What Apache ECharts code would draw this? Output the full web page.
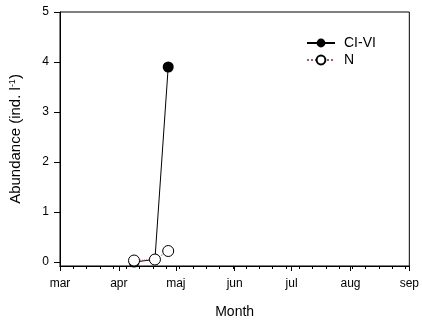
<!DOCTYPE html>
<html>
<head>
<meta charset="utf-8">
<script src="https://cdn.jsdelivr.net/npm/echarts@6/dist/echarts.min.js"></script>
<style>
    html, body { margin: 0; padding: 0; background: #fff; }
    #chart { width: 422px; height: 324px; }
</style>
</head>
<body>
<div id="chart"></div>
<script>
// days counted from 1 March
var monthDays = [0, 31, 61, 92, 122, 153, 184];
var monthNames = ['mar', 'apr', 'maj', 'jun', 'jul', 'aug', 'sep'];
var weekDays = [0, 7, 14, 21, 28, 35, 42, 49, 56, 63, 70, 77, 84, 91, 98, 105, 112, 119, 126, 133, 140, 147, 154, 161, 168, 175, 182];
var yTicks = [0, 1, 2, 3, 4, 5];

var ciDays = [39, 50, 57];
var ciValues = [0.0, 0.05, 3.9];
var nDays = [39, 50, 57];
var nValues = [0.03, 0.05, 0.22];

var font = 'Liberation Sans, Arial, sans-serif';

function pairs(xs, ys) {
    var out = [];
    for (var i = 0; i < xs.length; i++) out.push([xs[i], ys[i]]);
    return out;
}

var chart = echarts.init(document.getElementById('chart'));

var option = {
    animation: false,
    textStyle: { fontFamily: font },
    grid: {
        left: 56, right: 9, top: 12, bottom: 56,
        show: true,
        borderColor: '#000',
        borderWidth: 1
    },
    legend: {
        orient: 'vertical',
        left: 301,
        top: 31,
        itemWidth: 28,
        itemHeight: 11,
        itemGap: 3,
        textStyle: { fontFamily: font, fontSize: 14, color: '#000', padding: [0, 0, 0, 4] },
        data: ['CI-VI', 'N']
    },
    xAxis: [
        {
            type: 'value',
            min: 0, max: 184,
            axisLine: { onZero: false, lineStyle: { color: '#000' } },
            axisTick: { customValues: weekDays, length: 3, lineStyle: { color: '#000' } },
            axisLabel: { show: false },
            splitLine: { show: false }
        },
        {
            type: 'value',
            min: 0, max: 184,
            position: 'bottom',
            name: 'Month',
            nameLocation: 'middle',
            nameGap: 39,
            nameTextStyle: { fontFamily: font, fontSize: 14, color: '#000' },
            axisLine: { onZero: false, lineStyle: { color: '#000' } },
            axisTick: { customValues: monthDays, length: 5, lineStyle: { color: '#000' } },
            axisLabel: {
                customValues: monthDays,
                margin: 12,
                fontSize: 12,
                color: '#000',
                formatter: function (v) {
                    var i = monthDays.indexOf(v);
                    return i >= 0 ? monthNames[i] : '';
                }
            },
            splitLine: { show: false }
        }
    ],
    yAxis: {
        type: 'value',
        min: -0.08, max: 5,
        name: 'Abundance (ind. l{sup|-1})',
        nameLocation: 'middle',
        nameGap: 36,
        nameTextStyle: {
            fontFamily: font, fontSize: 15, color: '#000',
            rich: { sup: { fontSize: 9, verticalAlign: 'top', padding: [0, 0, 7, 0], color: '#000' } }
        },
        axisLine: { onZero: false, lineStyle: { color: '#000' } },
        axisTick: { customValues: yTicks, length: 6, lineStyle: { color: '#000' } },
        axisLabel: { customValues: yTicks, margin: 11, fontSize: 12, color: '#000' },
        splitLine: { show: false }
    },
    series: [
        {
            name: 'CI-VI',
            type: 'line',
            xAxisIndex: 0,
            data: pairs(ciDays, ciValues),
            symbol: 'circle',
            symbolSize: 11,
            lineStyle: { color: '#000', width: 1 },
            itemStyle: { color: '#000' },
            z: 2
        },
        {
            name: 'N',
            type: 'line',
            xAxisIndex: 0,
            data: pairs(nDays, nValues),
            symbol: 'circle',
            symbolSize: 11,
            lineStyle: { color: '#a05a78', width: 1, type: 'dotted' },
            itemStyle: { color: '#fff', borderColor: '#000', borderWidth: 1 },
            z: 3
        }
    ]
};

chart.setOption(option);
</script>
</body>
</html>
